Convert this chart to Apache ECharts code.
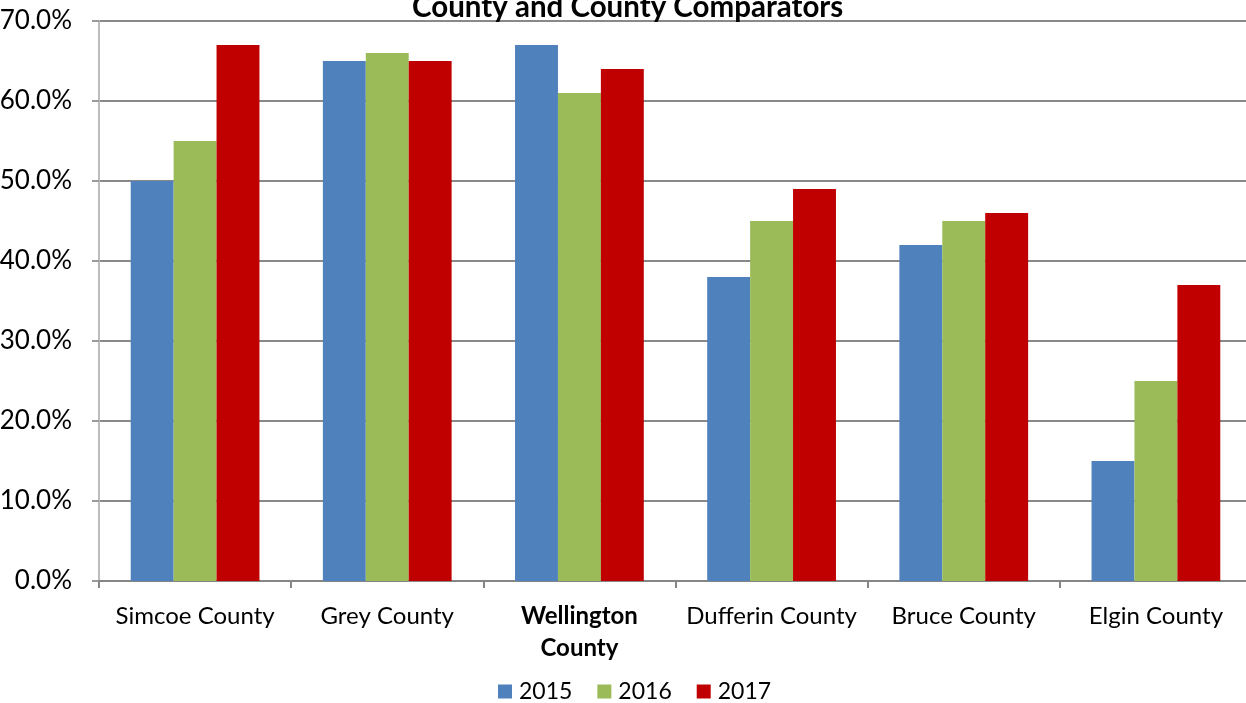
<!DOCTYPE html>
<html><head><meta charset="utf-8">
<script src="https://cdn.jsdelivr.net/npm/echarts@6/dist/echarts.min.js"></script>
<style>html,body{margin:0;padding:0;background:#fff;}#c{width:1246px;height:703px;}</style>
</head><body><div id="c"></div>
<script>
const titleText = "County and County Comparators";
const categories = ["Simcoe County", "Grey County", "Wellington County", "Dufferin County", "Bruce County", "Elgin County"];
const seriesNames = ["2015", "2016", "2017"];
const v2015 = [50, 65, 67, 38, 42, 15];
const v2016 = [55, 66, 61, 45, 45, 25];
const v2017 = [67, 65, 64, 49, 46, 37];
const colors = ["#4f81bd", "#9bbb59", "#c00000"];
const FONT = "Lato, 'Open Sans', sans-serif";

const chart = echarts.init(document.getElementById('c'), null, {renderer: 'canvas'});
const data = [v2015, v2016, v2017];
chart.setOption({
  animation: false,
  title: {text: titleText, left: 407, top: -13,
    textStyle: {fontFamily: FONT, fontWeight: 'bold', fontSize: 29.5, color: '#000'}},
  grid: {left: 99, width: 1153, top: 21, height: 560, containLabel: false, outerBoundsMode: 'none'},
  legend: {bottom: -5, left: 493, itemWidth: 14, itemHeight: 14, itemGap: 25,
    icon: 'rect', data: seriesNames,
    textStyle: {fontFamily: FONT, fontSize: 23, color: '#000', padding: [0,0,0,2]}},
  xAxis: {type: 'category', data: categories,
    axisLine: {lineStyle: {color: '#868686', width: 2}},
    axisTick: {show: true, interval: 0, length: 7, lineStyle: {color: '#868686', width: 2}},
    axisLabel: {interval: 0, fontFamily: FONT, fontSize: 24, color: '#000', margin: 19, lineHeight: 32,
      formatter: function(v){ return v === 'Wellington County' ? '{b|Wellington}\n{b|County}' : v; },
      rich: {b: {fontFamily: FONT, fontSize: 24, fontWeight: 'bold', color: '#000', lineHeight: 32}}}},
  yAxis: {type: 'value', min: 0, max: 70, interval: 10,
    axisLine: {show: true, lineStyle: {color: '#bdbdbd', width: 2}},
    axisTick: {show: true, length: 7, lineStyle: {color: '#9a9a9a', width: 2}},
    splitLine: {lineStyle: {color: '#898989', width: 2}},
    axisLabel: {fontFamily: FONT, fontSize: 26, color: '#000', margin: 27,
      formatter: function(v){ return v.toFixed(1) + '%'; }}},
  series: seriesNames.map((n, i) => ({
    name: n, type: 'bar', data: data[i], barGap: '0%', barCategoryGap: '33%',
    itemStyle: {color: colors[i]}
  }))
});
</script></body></html>
